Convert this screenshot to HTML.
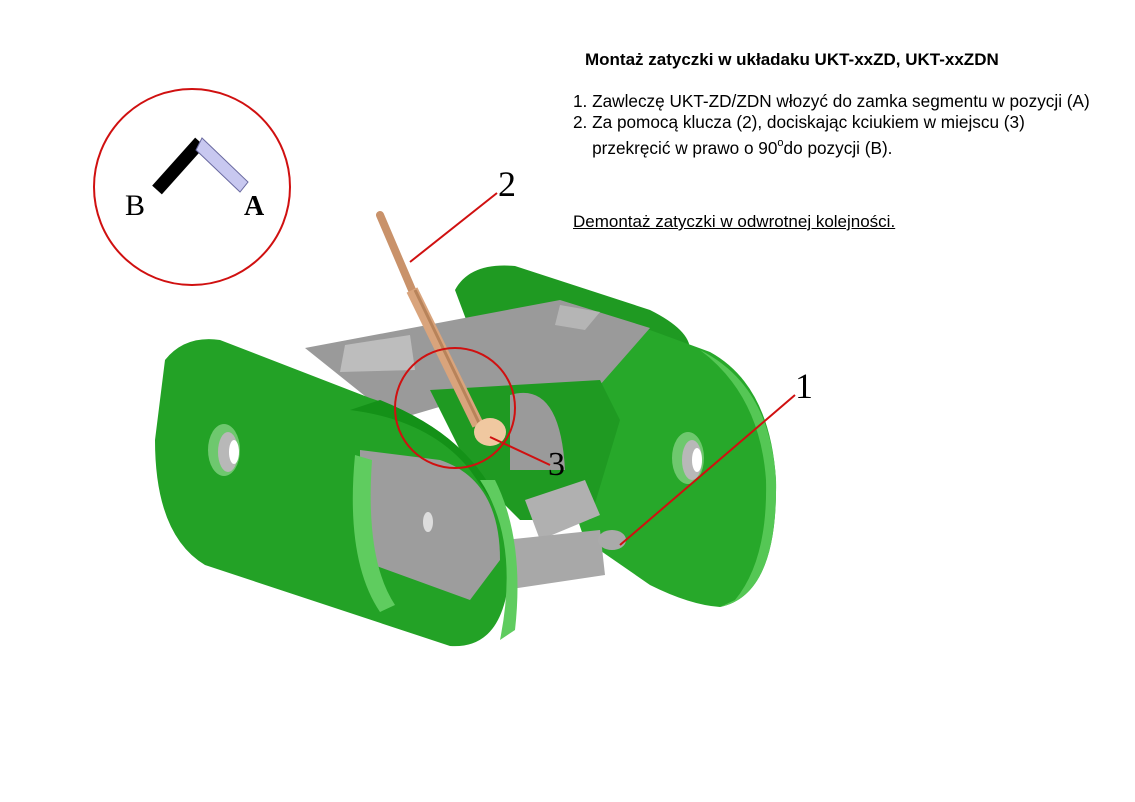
<!DOCTYPE html>
<html><head><meta charset="utf-8"><style>
html,body{margin:0;padding:0;background:#fff;}
body{width:1135px;height:802px;position:relative;overflow:hidden;font-family:"Liberation Sans",sans-serif;}
.t{position:absolute;color:#000;white-space:nowrap;}
</style></head><body>
<svg width="1135" height="802" style="position:absolute;left:0;top:0">
<!-- rear plate -->
<path d="M455,290 Q470,262 515,266 L650,310 Q690,330 690,350 L600,380 L470,330 Z" fill="#1f9a22"/>
<!-- right plate -->
<path d="M560,345 Q600,318 650,330 L710,352 Q770,385 776,480 Q778,595 720,607 Q690,605 650,585 L585,540 Q560,480 560,345 Z" fill="#27a82a"/>
<path d="M700,350 Q770,385 776,480 Q778,595 720,607 L735,600 Q768,560 766,480 Q760,395 700,350 Z" fill="#55c755"/>
<!-- gray top -->
<path d="M305,348 L560,300 L650,328 L600,385 L480,395 L395,420 Z" fill="#9a9a9a"/>
<path d="M345,345 L410,335 L415,370 L340,372 Z" fill="#bdbdbd"/>
<path d="M560,305 L600,312 L585,330 L555,325 Z" fill="#b5b5b5"/>
<!-- central green -->
<path d="M430,390 L600,380 L620,420 L590,520 L520,520 L470,470 Z" fill="#1f9a22"/>
<!-- gray inner -->
<path d="M510,395 Q560,380 565,470 L510,470 Z" fill="#9a9a9a"/>
<path d="M525,500 L585,480 L600,515 L540,540 Z" fill="#b0b0b0"/>
<path d="M505,540 L600,530 L605,575 L505,590 Z" fill="#a8a8a8"/>
<!-- left plate -->
<path d="M165,360 Q185,335 220,340 L370,398 Q500,440 510,560 Q508,650 450,646 L205,565 Q155,535 155,440 Z" fill="#23a226"/>
<path d="M350,410 Q430,420 470,470 L505,520 Q480,440 380,400 Z" fill="#149118"/>
<path d="M360,450 L440,460 Q500,480 500,560 L470,600 L360,560 Z" fill="#9d9d9d"/>
<path d="M355,455 Q345,560 380,612 L395,605 Q365,560 372,460 Z" fill="#5fcc5f"/>
<path d="M480,480 Q520,540 500,640 L515,630 Q525,540 495,480 Z" fill="#5fcc5f"/>
<!-- holes -->
<ellipse cx="224" cy="450" rx="16" ry="26" fill="#6ec86e"/>
<ellipse cx="228" cy="452" rx="10" ry="20" fill="#b8b8b8"/>
<ellipse cx="234" cy="452" rx="5" ry="12" fill="#fff"/>
<ellipse cx="688" cy="458" rx="16" ry="26" fill="#6ec86e"/>
<ellipse cx="692" cy="460" rx="10" ry="20" fill="#b8b8b8"/>
<ellipse cx="697" cy="460" rx="5" ry="12" fill="#fff"/>
<ellipse cx="428" cy="522" rx="5" ry="10" fill="#ddd"/>
<ellipse cx="612" cy="540" rx="14" ry="10" fill="#aaa"/>
<!-- tool -->
<line x1="380" y1="215" x2="412" y2="290" stroke="#c9926a" stroke-width="8" stroke-linecap="round"/>
<line x1="412" y1="290" x2="478" y2="425" stroke="#d9a47c" stroke-width="12"/>
<line x1="415" y1="290" x2="480" y2="425" stroke="#b8835a" stroke-width="3"/>
<ellipse cx="490" cy="432" rx="16" ry="14" fill="#f0c8a0"/>
<!-- circles -->
<circle cx="192" cy="187" r="98" fill="none" stroke="#d01010" stroke-width="2"/>
<circle cx="455" cy="408" r="60" fill="none" stroke="#d01010" stroke-width="2"/>
<line x1="157" y1="190" x2="200" y2="142" stroke="#000" stroke-width="13"/>
<path d="M202,138 L248,182 L240,192 L196,150 Z" fill="#c8c8f0" stroke="#6a6aa0" stroke-width="1"/>
<!-- leaders -->
<line x1="410" y1="262" x2="497" y2="193" stroke="#d01010" stroke-width="2"/>
<line x1="620" y1="545" x2="795" y2="395" stroke="#d01010" stroke-width="2"/>
<line x1="490" y1="437" x2="550" y2="465" stroke="#d01010" stroke-width="2"/>
<text x="125" y="215" font-family="Liberation Serif" font-size="30">B</text>
<text x="244" y="215" font-family="Liberation Serif" font-size="28" font-weight="bold">A</text>
<text x="498" y="196" font-family="Liberation Serif" font-size="36">2</text>
<text x="795" y="398" font-family="Liberation Serif" font-size="36">1</text>
<text x="548" y="475" font-family="Liberation Serif" font-size="34">3</text>
</svg>
<div class="t" style="left:585px;top:50px;font-size:17px;font-weight:bold">Montaż zatyczki w układaku UKT-xxZD, UKT-xxZDN</div>
<div class="t" style="left:573px;top:91px;font-size:17.2px;line-height:21px">1. Zawleczę UKT-ZD/ZDN włozyć do zamka segmentu w pozycji (A)<br>2. Za pomocą klucza (2), dociskając kciukiem w miejscu (3)<br>&nbsp;&nbsp;&nbsp;&nbsp;przekręcić w prawo o 90<span style="font-size:11px;vertical-align:8px">o</span>do pozycji (B).</div>
<div class="t" style="left:573px;top:212px;font-size:17px;text-decoration:underline">Demontaż zatyczki w odwrotnej kolejności.</div>
</body></html>
